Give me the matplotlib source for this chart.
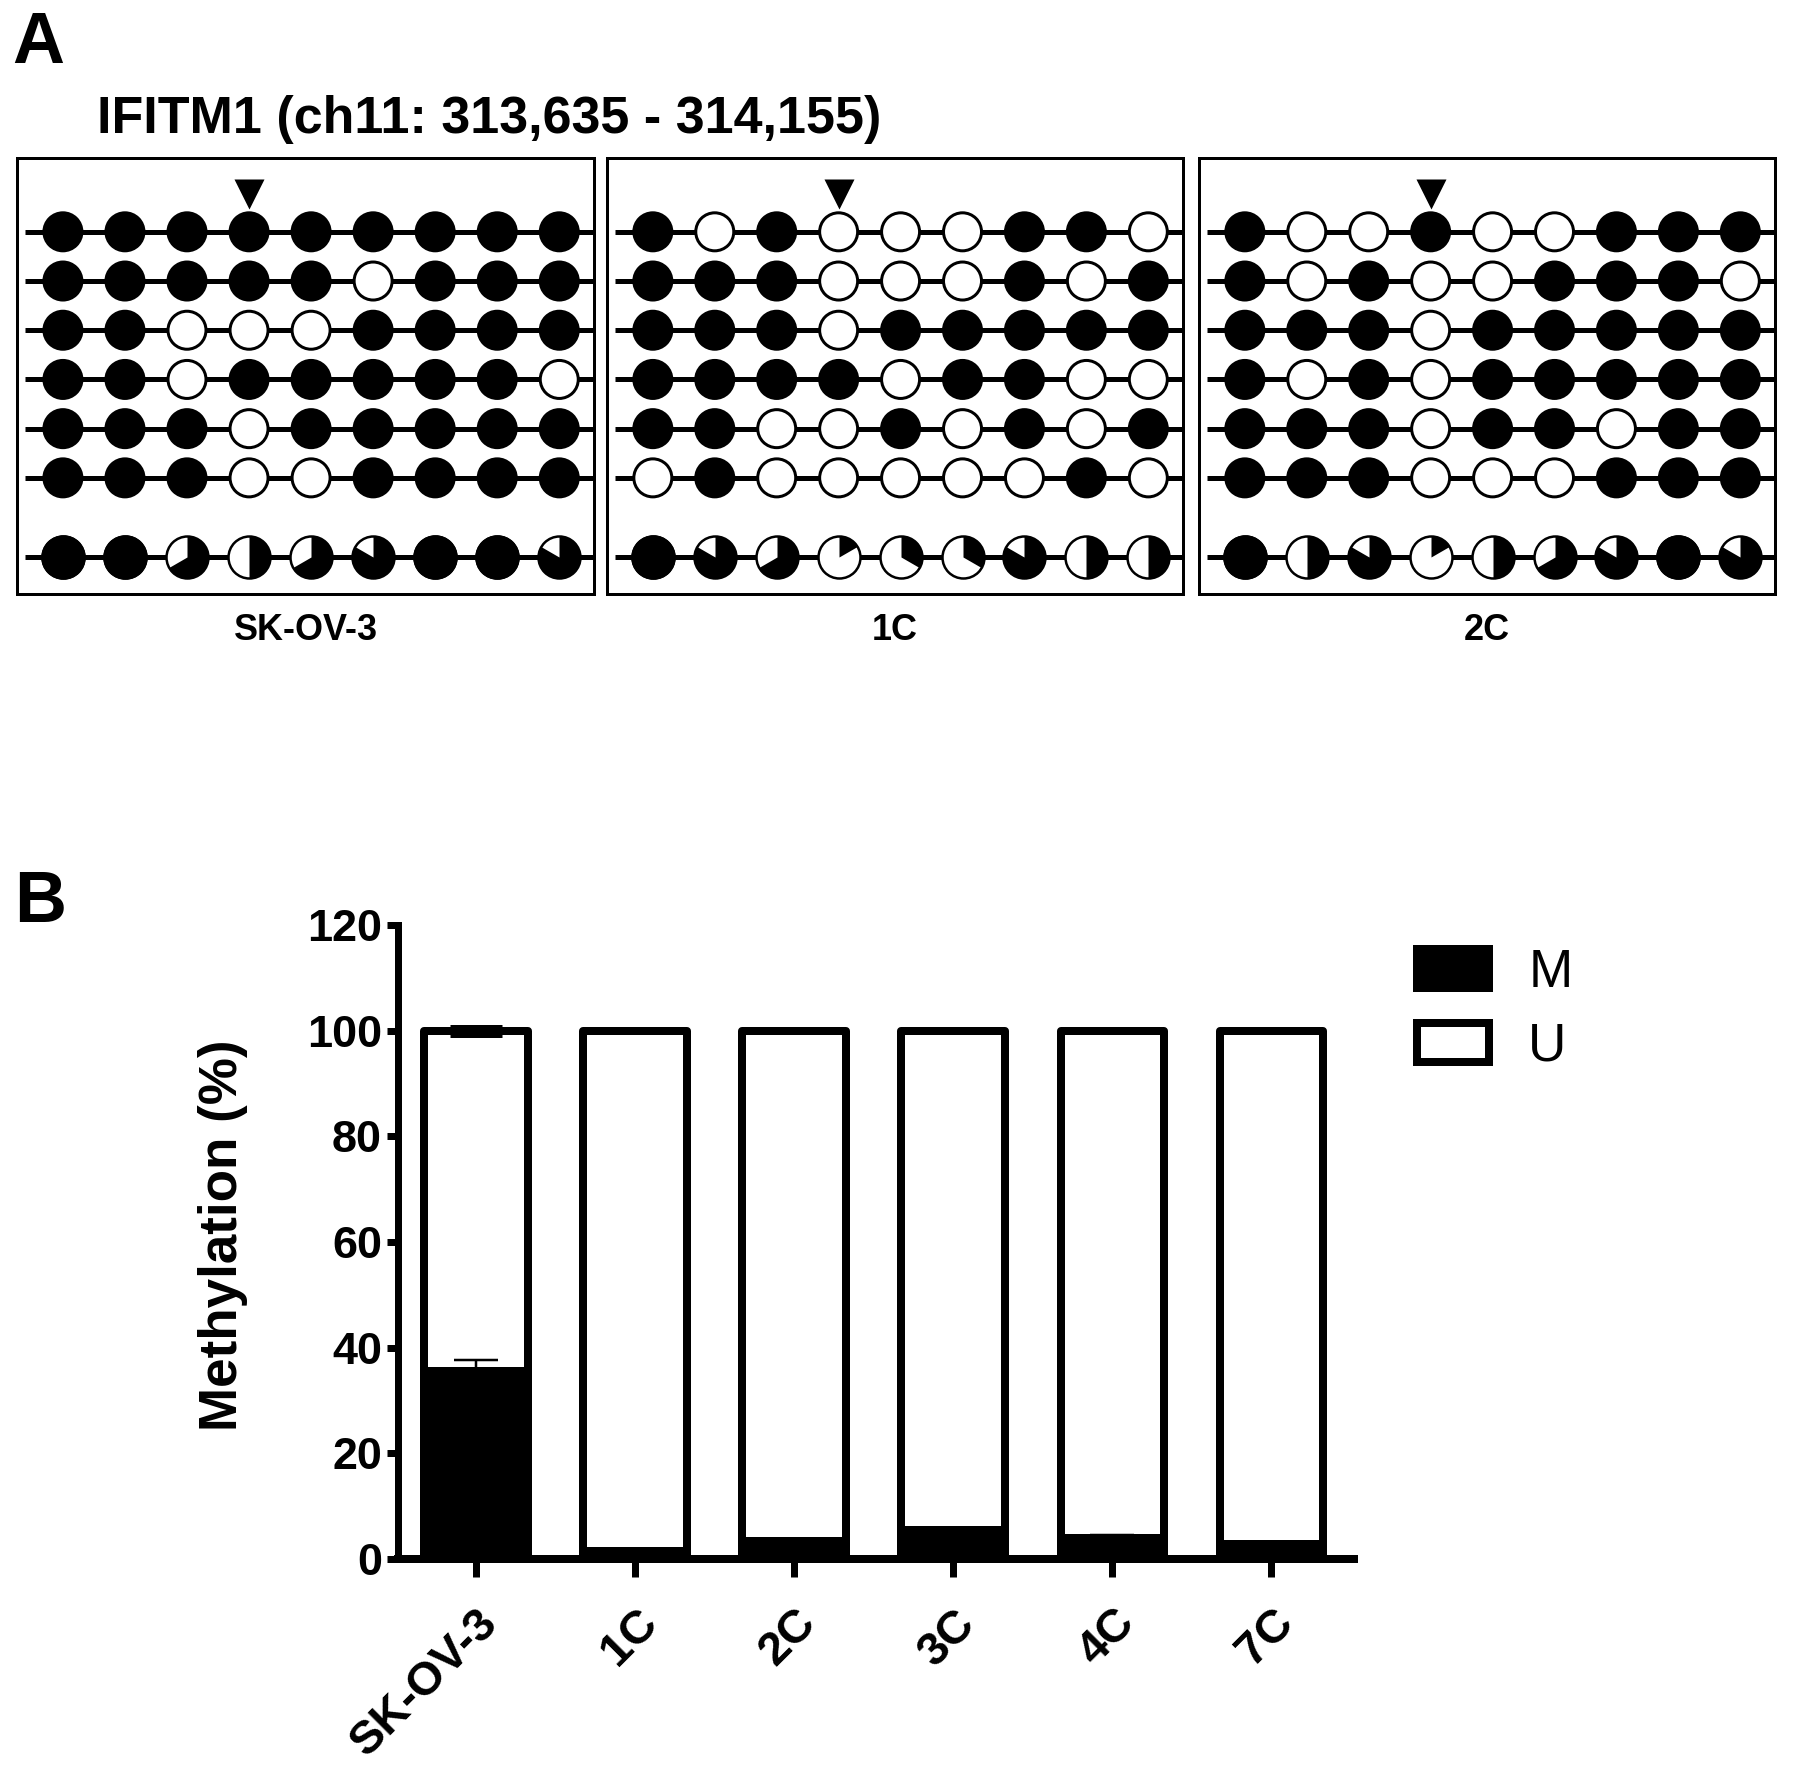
import numpy as np
import matplotlib
matplotlib.use("Agg")
import matplotlib.pyplot as plt
from matplotlib.patches import Patch

plt.rcParams['font.family'] = ['Liberation Sans', 'DejaVu Sans']

W, H, DPI = 1795, 1769, 100
PX = 72.0 / DPI          # points per output pixel

# ---------------- data: panel A (1 = methylated CpG, 0 = unmethylated) ----------------
gene_title = "IFITM1 (ch11: 313,635 - 314,155)"
samples_a = ["SK-OV-3", "1C", "2C"]
skov3_clones = [[1, 1, 1, 1, 1, 1, 1, 1, 1],
                [1, 1, 1, 1, 1, 0, 1, 1, 1],
                [1, 1, 0, 0, 0, 1, 1, 1, 1],
                [1, 1, 0, 1, 1, 1, 1, 1, 0],
                [1, 1, 1, 0, 1, 1, 1, 1, 1],
                [1, 1, 1, 0, 0, 1, 1, 1, 1]]
c1_clones = [[1, 0, 1, 0, 0, 0, 1, 1, 0],
             [1, 1, 1, 0, 0, 0, 1, 0, 1],
             [1, 1, 1, 0, 1, 1, 1, 1, 1],
             [1, 1, 1, 1, 0, 1, 1, 0, 0],
             [1, 1, 0, 0, 1, 0, 1, 0, 1],
             [0, 1, 0, 0, 0, 0, 0, 1, 0]]
c2_clones = [[1, 0, 0, 1, 0, 0, 1, 1, 1],
             [1, 0, 1, 0, 0, 1, 1, 1, 0],
             [1, 1, 1, 0, 1, 1, 1, 1, 1],
             [1, 0, 1, 0, 1, 1, 1, 1, 1],
             [1, 1, 1, 0, 1, 1, 0, 1, 1],
             [1, 1, 1, 0, 0, 0, 1, 1, 1]]
# summary pies: methylated clones out of 6 per CpG
skov3_pie = [6, 6, 4, 3, 4, 5, 6, 6, 5]
c1_pie = [6, 5, 4, 1, 2, 2, 5, 3, 3]
c2_pie = [6, 3, 5, 1, 3, 4, 5, 6, 5]
pie_total = 6
marked_cpg = 4

# ---------------- data: panel B ----------------
lines_b = ["SK-OV-3", "1C", "2C", "3C", "4C", "7C"]
meth_m = [35.6, 1.5, 3.4, 5.5, 4.0, 2.8]
meth_m_err = [2.1, 0, 0, 0, 0.6, 0]
meth_u_err = [0.4, 0, 0, 0, 0, 0]


def wedge_marker(frac):
    # black slice, clockwise from 12 o'clock
    ang = np.radians(np.linspace(90, 90 - 360 * frac, 80))
    pts = np.column_stack([np.cos(ang), np.sin(ang)])
    return np.vstack([[0, 0], pts, [0, 0]])


fig = plt.figure(figsize=(W / DPI, H / DPI), dpi=DPI)

# ---------------- panel A ----------------
fig.text(12 / W, 1 - 63 / H, "A", fontsize=72 * PX, fontweight="bold", va="baseline")
fig.text(97 / W, 1 - 133 / H, gene_title, fontsize=52 * PX, fontweight="bold", va="baseline")

box_px = [(17, 594), (607, 1183), (1199, 1775)]
box_top, box_bot = 158, 594
cols = np.arange(1, 10)
row_y = np.arange(1, 7)
pie_y = 7.6

for (x0, x1), name, clones, pie in zip(box_px, samples_a,
                                       [skov3_clones, c1_clones, c2_clones],
                                       [skov3_pie, c1_pie, c2_pie]):
    ax = fig.add_axes([x0 / W, 1 - box_bot / H, (x1 - x0) / W, (box_bot - box_top) / H])
    ax.set_xlim(0.26, 9.56)
    ax.set_ylim(8.36, -0.50)
    ax.set_xticks([])
    ax.set_yticks([])
    for sp in ax.spines.values():
        sp.set_linewidth(3 * PX)

    for r, clone in zip(row_y, clones):
        ax.plot([0.39, 9.56], [r, r], color="black", lw=5 * PX, zorder=1, solid_capstyle="butt")
        fc = ["black" if v else "white" for v in clone]
        ax.scatter(cols, [r] * 9, s=(38 * PX) ** 2, c=fc, edgecolors="black",
                   linewidths=3 * PX, zorder=2)

    ax.plot([0.39, 9.56], [pie_y, pie_y], color="black", lw=5 * PX, zorder=1, solid_capstyle="butt")
    ax.scatter(cols, [pie_y] * 9, s=(42 * PX) ** 2, c="white", edgecolors="black",
               linewidths=2.5 * PX, zorder=2)
    for c, n in zip(cols, pie):
        if n == pie_total:
            ax.scatter([c], [pie_y], s=(42 * PX) ** 2, c="black", edgecolors="black",
                       linewidths=2.5 * PX, zorder=3)
        elif n > 0:
            ax.scatter([c], [pie_y], s=(42 * PX) ** 2, marker=wedge_marker(n / pie_total),
                       c="black", linewidths=0, zorder=3)

    ax.scatter([marked_cpg], [0.23], marker="v", s=(30 * PX) ** 2, c="black", linewidths=0)

    fig.text((x0 + x1) / 2 / W, 1 - 630 / H, name, ha="center", va="center",
             fontsize=36 * PX, fontweight="bold")

# ---------------- panel B ----------------
fig.text(14 / W, 1 - 922 / H, "B", fontsize=72 * PX, fontweight="bold", va="baseline")

axb = fig.add_axes([398 / W, 1 - 1559 / H, 956 / W, 634 / H])
x = np.arange(len(lines_b))
m = np.array(meth_m)
u = 100 - m
bw = 0.65
lw_bar = 8 * PX
axb.bar(x, m, width=bw, color="black", edgecolor="black", linewidth=lw_bar, zorder=2,
        joinstyle="round")
axb.bar(x, u, bottom=m, width=bw, color="white", edgecolor="black", linewidth=lw_bar, zorder=2,
        joinstyle="round")

for i in range(len(x)):
    if meth_m_err[i] > 0:
        axb.errorbar([x[i]], [m[i]], yerr=[[0], [meth_m_err[i]]], fmt="none", ecolor="black",
                     elinewidth=2.5 * PX, capsize=22 * PX, capthick=2.5 * PX, zorder=3)
    if meth_u_err[i] > 0:
        axb.errorbar([x[i]], [100], yerr=[[meth_u_err[i]], [meth_u_err[i]]], fmt="none",
                     ecolor="black", elinewidth=8 * PX, capsize=26 * PX, capthick=9 * PX,
                     zorder=3)

axb.set_xlim(-0.49, 5.52)
axb.set_ylim(0, 120)
axb.set_yticks(np.arange(0, 121, 20))
axb.spines["top"].set_visible(False)
axb.spines["right"].set_visible(False)
axb.spines["left"].set_linewidth(7 * PX)
axb.spines["bottom"].set_linewidth(8 * PX)
axb.tick_params(axis="y", length=11 * PX, width=7 * PX, pad=5 * PX, labelsize=45 * PX)
axb.tick_params(axis="x", length=18 * PX, width=7 * PX, pad=24 * PX)
for t in axb.get_yticklabels():
    t.set_fontweight("bold")
axb.set_xticks(x, lines_b, rotation=45, ha="right", va="top", rotation_mode="anchor",
               fontweight="bold", fontsize=47 * PX)
axb.set_ylabel("Methylation (%)", fontsize=53 * PX, fontweight="bold")
axb.yaxis.set_label_coords(-0.157, 0.51)

handles = [Patch(facecolor="black", edgecolor="black", linewidth=lw_bar, joinstyle="round"),
           Patch(facecolor="white", edgecolor="black", linewidth=lw_bar, joinstyle="round")]
fig.legend(handles, ["M", "U"], loc="upper left", bbox_to_anchor=(1417 / W, 1 - 948 / H),
           frameon=False, borderpad=0, borderaxespad=0, fontsize=53 * PX,
           handlelength=1.35, handleheight=0.75, handletextpad=0.75, labelspacing=0.45)

fig.savefig("out.png", dpi=DPI)
